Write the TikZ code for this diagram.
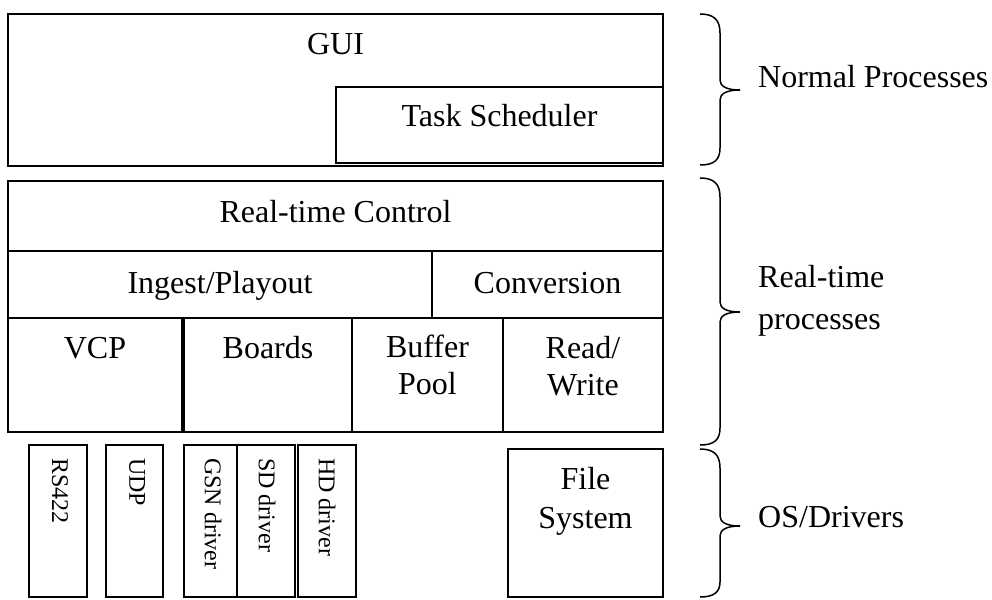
\documentclass[tikz,border=0pt]{standalone}
\usepackage{fontspec}
\setmainfont{Liberation Serif}
\newcommand\mkbox[5]{\node[box, minimum width={(#4)-(#2)}, minimum height={(#5)-(#3)}] (#1) at (#2,#3) {};}
\begin{document}
\begin{tikzpicture}[x=1pt, y=-1pt,
  box/.style={draw, line width=1.5pt, inner sep=0pt, outer sep=0pt, anchor=north west},
  lbl/.style={inner sep=0pt, anchor=base, font=\fontsize{32}{37}\selectfont},
  side/.style={inner sep=0pt, anchor=base west, font=\fontsize{32}{37}\selectfont},
  vlbl/.style={inner sep=0pt, anchor=west, rotate=-90, font=\fontsize{24}{28}\selectfont},
  brc/.style={line width=1.5pt}]
\useasboundingbox (0,0) rectangle (992,599);
% normal processes
\mkbox{gui}{8}{14}{663}{166}
\mkbox{task}{336}{87}{663}{163}
\node[lbl] (tgui) at (335.5,55) {GUI};
\node[lbl] (ttask) at (499.5,127) {Task Scheduler};
% real-time processes
\mkbox{rtc}{8}{181}{663}{251}
\mkbox{ing}{8}{251}{432}{318}
\mkbox{conv}{432}{251}{663}{318}
\mkbox{vcp}{8}{318}{182}{432}
\mkbox{boards}{184}{318}{352}{432}
\mkbox{buf}{352}{318}{503}{432}
\mkbox{rw}{503}{318}{663}{432}
\node[lbl] (trtc) at (335.5,222) {Real-time Control};
\node[lbl] (ting) at (220,293) {Ingest/Playout};
\node[lbl] (tconv) at (547.5,293) {Conversion};
\node[lbl] (tvcp) at (95,358) {VCP};
\node[lbl] (tboards) at (268,358) {Boards};
\node[lbl] (tbuf1) at (427.5,357) {Buffer};
\node[lbl] (tbuf2) at (427.5,394) {Pool};
\node[lbl] (trw1) at (583,358) {Read/};
\node[lbl] (trw2) at (583,395) {Write};
% OS / drivers
\mkbox{rs}{29}{445}{87}{597}
\mkbox{udp}{106}{445}{163}{597}
\mkbox{gsn}{184}{445}{237}{597}
\mkbox{sd}{237}{445}{295}{597}
\mkbox{hd}{298}{445}{356}{597}
\mkbox{fs}{508}{449}{663}{597}
\node[vlbl] (trs) at (60,458) {RS422};
\node[vlbl] (tudp) at (137,458) {UDP};
\node[vlbl] (tgsn) at (213,458) {GSN driver};
\node[vlbl] (tsd) at (267,458) {SD driver};
\node[vlbl] (thd) at (327,458) {HD driver};
\node[lbl] (tfs1) at (585.5,489) {File};
\node[lbl] (tfs2) at (585.5,528) {System};
% braces
\draw[brc] (700,14) .. controls (714,14) and (720,20) .. (720,33) -- (720,80)
  .. controls (720,86) and (726,90) .. (740,90)
  .. controls (726,90) and (720,94) .. (720,100) -- (720,148)
  .. controls (720,160) and (714,165) .. (700,165);
\draw[brc] (700,178) .. controls (714,178) and (720,184) .. (720,197) -- (720,302)
  .. controls (720,308) and (726,312) .. (740,312)
  .. controls (726,312) and (720,316) .. (720,322) -- (720,428)
  .. controls (720,440) and (714,445) .. (700,445);
\draw[brc] (700,449) .. controls (714,449) and (720,455) .. (720,468) -- (720,516)
  .. controls (720,522) and (726,526) .. (740,526)
  .. controls (726,526) and (720,530) .. (720,536) -- (720,582)
  .. controls (720,592) and (714,597) .. (700,597);
\node[side] (lnp) at (758,88) {Normal Processes};
\node[side] (lrt1) at (758,287) {Real-time};
\node[side] (lrt2) at (758,329) {processes};
\node[side] (los) at (758,527) {OS/Drivers};
\end{tikzpicture}
\end{document}
